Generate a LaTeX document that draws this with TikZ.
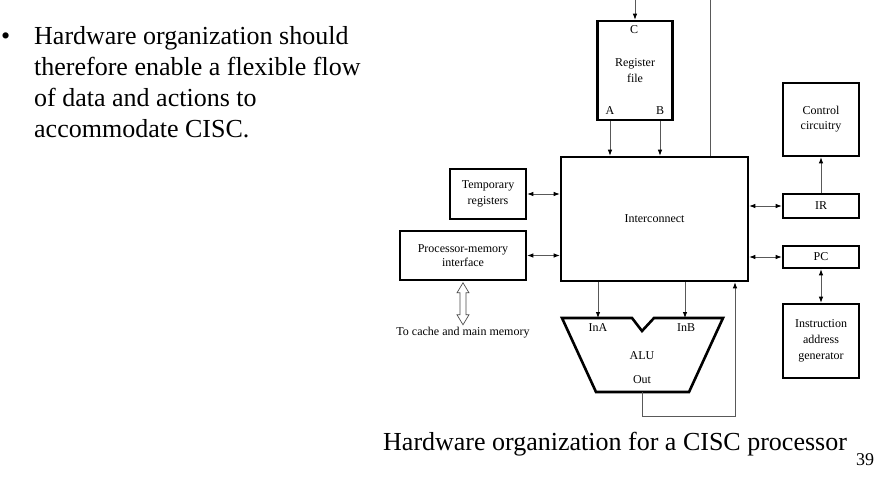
\documentclass[tikz,border=0pt]{standalone}
\usepackage{fontspec}
\setmainfont{Liberation Serif}
\usetikzlibrary{arrows.meta,calc}
\begin{document}
\begin{tikzpicture}[x=1pt,y=-1pt,
  box/.style={draw=black,line width=2.6pt,inner sep=0pt,align=center,font=\fontsize{12}{14}\selectfont},
  lbl/.style={inner sep=0pt,font=\fontsize{12}{14}\selectfont},
  big/.style={inner sep=0pt,anchor=base west,font=\fontsize{26}{31}\selectfont},
  conn/.style={draw=black!65,line width=0.8pt},
  uni/.style={conn,-{Latex[length=6pt,width=4.5pt,black]}},
  bi/.style={conn,{Latex[length=6pt,width=4.5pt,black]}-{Latex[length=6pt,width=4.5pt,black]}}]
\fill[white] (0,0) rectangle (877,479);
\useasboundingbox (0,0) rectangle (877,479);
% bullet text
\node[big] (bul) at (1,44) {•};
\node[big] (l1) at (34,44) {Hardware organization should};
\node[big] (l2) at (34,75) {therefore enable a flexible flow};
\node[big] (l3) at (34,106) {of data and actions to};
\node[big] (l4) at (34,137) {accommodate CISC.};
% caption
\node[big] (cap) at (383,450) {Hardware organization for a CISC processor};
\node[inner sep=0pt,anchor=base west,font=\fontsize{18}{22}\selectfont] (pg) at (856,465) {39};
% boxes
\node[box,minimum width=75pt,minimum height=99pt] (rf) at (635,70.5) {Register\\[2pt]file};
\node[lbl] (rfC) at (634,30) {C};
\node[lbl] (rfA) at (610,111) {A};
\node[lbl] (rfB) at (660,111) {B};
\node[box,minimum width=187pt,minimum height=124pt] (ic) at (654.5,219) {Interconnect};
\node[box,minimum width=76pt,minimum height=50pt] (tmp) at (488,194) {Temporary\\[2pt]registers};
\node[box,minimum width=126pt,minimum height=49pt] (pmi) at (463,255.5) {Processor-memory\\[0pt]interface};
\node[box,minimum width=76pt,minimum height=73pt] (cc) at (821,119.5) {Control\\[1pt]circuitry};
\node[box,minimum width=76pt,minimum height=24pt] (ir) at (821,206) {IR};
\node[box,minimum width=76pt,minimum height=22pt] (pc) at (821,257) {PC};
\node[box,minimum width=76pt,minimum height=74pt] (iag) at (821,341) {Instruction\\[2pt]address\\[2pt]generator};
\node[lbl] (mem) at (463,333) {To cache and main memory};
% ALU
\draw[line width=2.6pt,line join=miter] (562,318) -- (632,318) -- (642,331) -- (654,318) -- (723,318) -- (689,392) -- (596,392) -- cycle;
\node[lbl] (inA) at (598,328) {InA};
\node[lbl] (inB) at (686,328) {InB};
\node[lbl] (alu) at (642,356) {ALU};
\node[lbl] (out) at (642,380) {Out};
\coordinate (inAt) at (598,318);
\coordinate (inBt) at (685,318);
\coordinate (outb) at (642,392);
\coordinate (rfin) at (635,0);
\coordinate (top710) at (710,0);
\coordinate (fb) at (735,416);
% connectors
\draw[uni] (rfin) -- (rfin |- rf.north);
\draw[uni] (rfA.center |- rf.south) -- (rfA.center |- ic.north);
\draw[uni] (rfB.center |- rf.south) -- (rfB.center |- ic.north);
\draw[conn] (top710) -- (top710 |- ic.north);
\draw[bi] (tmp.east) -- (tmp.east -| ic.west);
\draw[bi] (pmi.east) -- (pmi.east -| ic.west);
\draw[bi] (ir.west) -- (ir.west -| ic.east);
\draw[bi] (pc.west) -- (pc.west -| ic.east);
\draw[uni] (ir.north) -- (cc.south);
\draw[bi] (pc.south) -- (iag.north);
\draw[uni] (inAt |- ic.south) -- (inAt);
\draw[uni] (inBt |- ic.south) -- (inBt);
\draw[uni] (outb) -- (outb |- fb) -- (fb) -- (fb |- ic.south);
% hollow double arrow
\draw[draw=black!70,line width=0.7pt,fill=white] ($(pmi.south)+(0,1.5)$) -- ++(6,10) -- ++(-3,0) -- ++(0,22) -- ++(3,0) -- ++(-6,10) -- ++(-6,-10) -- ++(3,0) -- ++(0,-22) -- ++(-3,0) -- cycle;
\end{tikzpicture}
\end{document}
